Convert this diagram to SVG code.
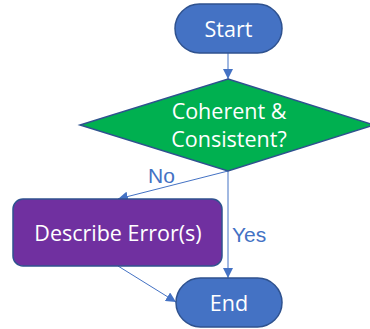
<svg xmlns="http://www.w3.org/2000/svg" width="370" height="329" viewBox="0 0 370 329">
<style>
.node{stroke:#2F528F;stroke-width:1.5}
.term{fill:#4472C4}
.lbl{font-family:"Open Sans","Noto Sans",sans-serif;font-size:21.5px;fill:#FFFFFF;text-anchor:middle}
.edge{stroke:#4472C4;stroke-width:1;fill:none}
.elbl{font-family:"Liberation Sans",Arial,sans-serif;font-size:21px;fill:#4472C4}
</style>
<defs>
<marker id="arr" viewBox="0 0 10 10" refX="10" refY="5" markerWidth="10" markerHeight="10" markerUnits="userSpaceOnUse" orient="auto">
<path d="M0,0 L10,5 L0,10 Z" fill="#4472C4"/>
</marker>
</defs>
<g id="connectors">
<line class="edge" x1="228" y1="53" x2="228" y2="79" marker-end="url(#arr)"/>
<line class="edge" x1="228" y1="171" x2="118" y2="199" marker-end="url(#arr)"/>
<line class="edge" x1="228" y1="171" x2="228" y2="278" marker-end="url(#arr)"/>
<line class="edge" x1="118" y1="266" x2="176" y2="302" marker-end="url(#arr)"/>
<text class="elbl" x="148" y="183">No</text>
<text class="elbl" x="232" y="242">Yes</text>
</g>
<g id="start">
<rect class="node term" x="175" y="4" width="107" height="49" rx="24.5"/>
<text class="lbl" x="228.5" y="37">Start</text>
</g>
<g id="decision">
<polygon class="node" fill="#00B050" points="228,79 374,125 228,171 80,125"/>
<text class="lbl" x="229" y="119">Coherent &amp;</text>
<text class="lbl" x="229" y="147">Consistent?</text>
</g>
<g id="describe">
<rect class="node" fill="#7030A0" x="13" y="199" width="209" height="67" rx="10"/>
<text class="lbl" x="118" y="241">Describe Error(s)</text>
</g>
<g id="end">
<rect class="node term" x="176" y="278" width="106" height="49" rx="24.5"/>
<text class="lbl" x="229" y="311">End</text>
</g>
</svg>
